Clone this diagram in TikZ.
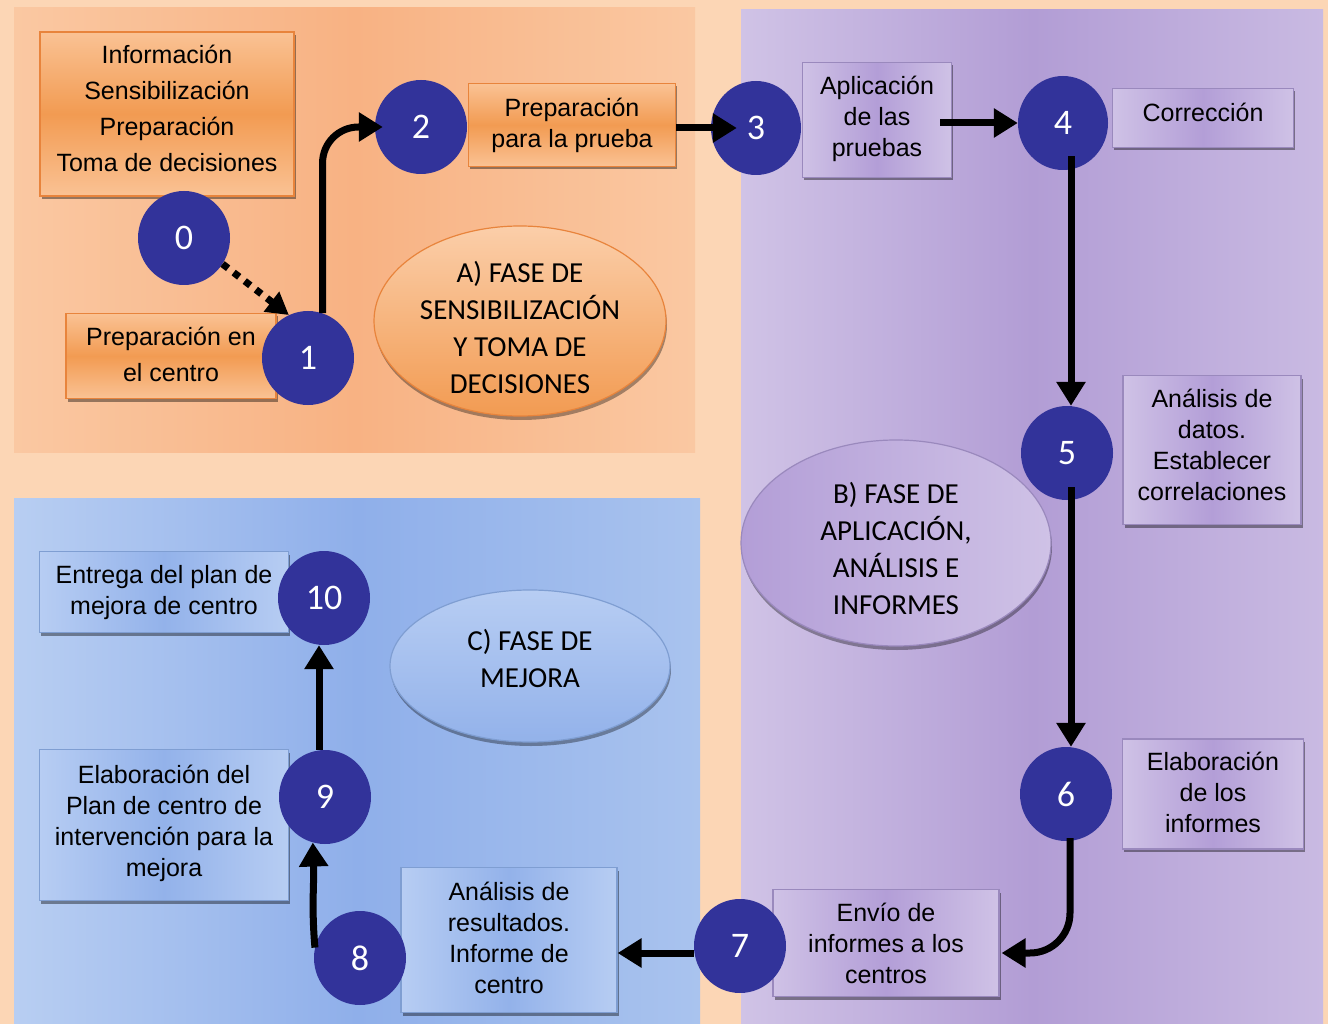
\documentclass[tikz,border=0pt]{standalone}
\usepackage{fontspec}
\setmainfont{Liberation Sans}
\newfontfamily\calibri{Carlito}
\usetikzlibrary{shapes.geometric,arrows.meta,shadows}
\definecolor{peach}{HTML}{FCD6B5}
\definecolor{paL}{HTML}{FAC8A2}
\definecolor{paM}{HTML}{F8B283}
\definecolor{pbL}{HTML}{D0C3E6}
\definecolor{pbM}{HTML}{B29DD5}
\definecolor{pbR}{HTML}{C9BAE2}
\definecolor{pcL}{HTML}{B8CEF2}
\definecolor{pcM}{HTML}{8FAFEA}
\definecolor{pcR}{HTML}{A9C3EE}
\definecolor{olight}{HTML}{FAC294}
\definecolor{odark}{HTML}{F29B52}
\definecolor{oborder}{HTML}{E8843C}
\definecolor{plight}{HTML}{CFC2E6}
\definecolor{pdark}{HTML}{B39ED7}
\definecolor{pborder}{HTML}{9A89BD}
\definecolor{blight}{HTML}{B7CDF3}
\definecolor{bdark}{HTML}{93B2EA}
\definecolor{bborder}{HTML}{7F9ED2}
\definecolor{navy}{HTML}{32339A}
\begin{document}
\begin{tikzpicture}[x=1pt,y=-1pt,
 box/.style={rectangle, draw, line width=1.2pt, align=center, inner sep=0pt,
   font=\fontsize{25}{31}\selectfont,
   drop shadow={shadow xshift=1.5pt, shadow yshift=-3pt, fill=black, opacity=0.4}},
 obox/.style={box, draw=oborder, top color=olight, bottom color=olight, middle color=odark},
 pbox/.style={box, draw=pborder, left color=plight, right color=plight, middle color=pdark},
 bbox/.style={box, draw=bborder, left color=blight, right color=blight, middle color=bdark},
 num/.style={ellipse, fill=navy, minimum width=92pt, minimum height=94pt, inner sep=0pt,
   text=white, font=\calibri\fontsize{36}{36}\selectfont},
 phase/.style={ellipse, inner sep=0pt, line width=1.2pt,
   drop shadow={shadow xshift=1pt, shadow yshift=-4pt, fill=black, opacity=0.35}},
 phasetext/.style={align=center, inner sep=0pt, font=\calibri\fontsize{29}{37}\selectfont},
 arr/.style={line width=7pt, -{Triangle[length=24pt,width=28pt]}}
]
\useasboundingbox (0,0) rectangle (1328,1024);
\fill[peach] (0,0) rectangle (1328,1024);
% panels
\fill[left color=paL, right color=paL, middle color=paM] (14,8) rectangle (695,452);
\fill[left color=pbL, right color=pbR, middle color=pbM] (741,10) rectangle (1323,1024);
\fill[left color=pcL, right color=pcR, middle color=pcM] (14,498) rectangle (700,1024);

% boxes
\node[obox, minimum width=254pt, minimum height=164pt, font=\fontsize{25}{36}\selectfont, text depth=12pt] (info) at (167,114)
  {Información\\Sensibilización\\Preparación\\Toma de decisiones};
\node[obox, minimum width=210pt, minimum height=85pt, font=\fontsize{25}{36}\selectfont, text depth=4pt] (pc) at (171,356) {Preparación en\\el centro};
\node[obox, minimum width=207pt, minimum height=83pt, text depth=4pt] (pp) at (572,125) {Preparación\\para la prueba};
\node[pbox, minimum width=149pt, minimum height=115pt, text depth=8pt] (apl) at (877,120) {Aplicación\\de las\\pruebas};
\node[pbox, minimum width=181pt, minimum height=59pt, text depth=12pt] (cor) at (1203,118) {Corrección};
\node[pbox, minimum width=178pt, minimum height=149pt, text depth=10pt] (ad) at (1212,450) {Análisis de\\datos.\\Establecer\\correlaciones};
\node[pbox, minimum width=181pt, minimum height=110pt, text depth=3pt] (ei) at (1213,794) {Elaboración\\de los\\informes};
\node[pbox, minimum width=226pt, minimum height=107pt] (env) at (886,943) {Envío de\\informes a los\\centros};
\node[bbox, minimum width=216pt, minimum height=145pt, text depth=4pt] (ar) at (509,940) {Análisis de\\resultados.\\Informe de\\centro};
\node[bbox, minimum width=249pt, minimum height=151pt, text depth=8pt] (ep) at (164,825) {Elaboración del\\Plan de centro de\\intervención para la\\mejora};
\node[bbox, minimum width=249pt, minimum height=81pt, text depth=5pt] (ent) at (164,592) {Entrega del plan de\\mejora de centro};

% phase ellipses
\node[phase, draw=oborder, top color=olight!80!white, bottom color=odark, minimum width=292pt, minimum height=190pt] (fa) at (520,321) {};
\node[phasetext] (fat) at ([yshift=-6pt]fa.center) {A) FASE DE\\SENSIBILIZACIÓN\\Y TOMA DE\\DECISIONES};
\node[phase, draw=pborder, left color=pdark, right color=plight, minimum width=310pt, minimum height=206pt] (fb) at (896,543) {};
\node[phasetext] (fbt) at ([yshift=-5pt]fb.center) {B) FASE DE\\APLICACIÓN,\\ANÁLISIS E\\INFORMES};
\node[phase, draw=bborder, top color=blight, bottom color=bdark, minimum width=280pt, minimum height=152pt] (fc) at (530,666) {};
\node[phasetext] (fct) at ([yshift=8pt]fc.center) {C) FASE DE\\MEJORA};

% numbered circles
\node[num] (c0) at (184,238) {0};
\node[num] (c1) at (308,358) {1};
\node[num] (c2) at (421,127) {2};
\node[num, minimum width=90pt] (c3) at (756,128) {3};
\node[num, minimum width=90pt] (c4) at (1063,123) {4};
\node[num] (c5) at (1067,453) {5};
\node[num] (c6) at (1066,794) {6};
\node[num] (c7) at (740,946) {7};
\node[num] (c8) at (360,958) {8};
\node[num] (c9) at (325,797) {9};
\node[num] (c10) at (324,598) {10};

% connectors
\draw[line width=7pt, dash pattern=on 7pt off 7pt, -{Triangle[length=22pt,width=24pt]}] (c0.-34) -- (c1.114);
\draw[arr, rounded corners=36pt] (c1.72) |- ([xshift=8pt]c2.west);
\draw[arr] (pp.east |- c3.west) -- ([xshift=26pt]c3.west);
\draw[arr] ([xshift=-12pt]apl.east |- c4.west) -- (c4.west);
\draw[arr, shorten <=-14pt] ([xshift=4pt]c5.north |- c4.south) -- ([xshift=4pt]c5.north);
\draw[arr, shorten <=-13pt] ([xshift=4pt]c5.south) -- ([xshift=4pt]c5.south |- c6.north);
\draw[arr, rounded corners=40pt, shorten <=-3pt] ([xshift=4pt]c6.south) |- ([yshift=-10pt,xshift=2pt]env.east);
\draw[arr] ([yshift=-7pt]c7.west) -- ([yshift=-7pt]c7.west -| ar.east);
\draw[arr] (c8.167) to[out=95,in=-88] (c9.-105);
\draw[arr] ([xshift=-6pt]c9.north) -- ([xshift=-6pt]c9.north |- c10.south);
\end{tikzpicture}
\end{document}
